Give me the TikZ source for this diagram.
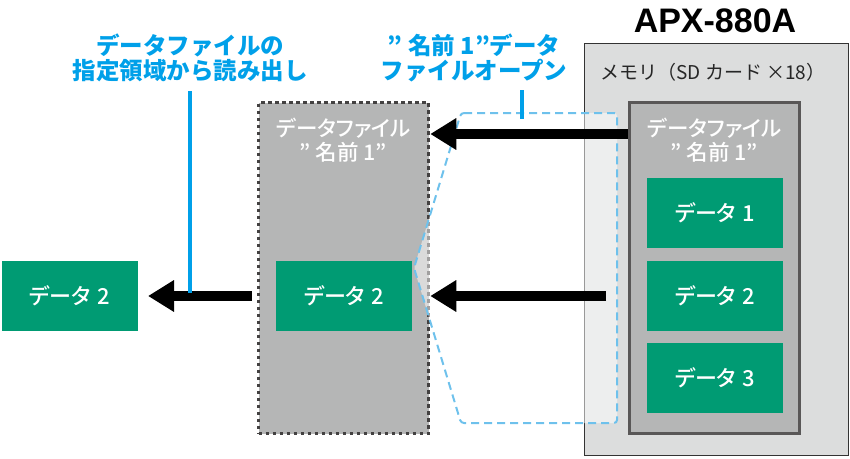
\documentclass[tikz,border=0pt]{standalone}
\usepackage{fontspec}
\setmainfont{Noto Sans CJK JP}
\newfontfamily\jpmedium{Noto Sans CJK JP}[UprightFont={* Medium}, RawFeature=+palt]
\newfontfamily\latinbold{Liberation Sans}
\usetikzlibrary{arrows.meta, positioning, calc}

\definecolor{memgray}{HTML}{DCDDDD}
\definecolor{filegray}{HTML}{B5B6B6}
\definecolor{darkrim}{HTML}{595757}
\definecolor{datagreen}{HTML}{009B73}
\definecolor{noteblue}{HTML}{00A0E9}
\definecolor{dashblue}{HTML}{6EC1EC}

\begin{document}
\begin{tikzpicture}[x=1pt, y=-1pt, line join=miter]
    % Styles
    \tikzset{
        databox/.style={fill=datagreen, minimum width=136pt, minimum height=70pt, inner sep=0pt, text=white, font=\jpmedium\fontsize{22}{26}\selectfont},
        filebox/.style={fill=filegray, minimum width=170pt, minimum height=331pt, inner sep=0pt},
        filelabel/.style={text=white, align=center, font=\jpmedium\fontsize{21.5}{24}\selectfont},
        bigarrow/.style={line width=10pt, -{Triangle[length=26pt, width=30pt]}},
        note/.style={text=noteblue, align=center, font=\fontsize{23.5}{25}\selectfont\bfseries},
        noteline/.style={noteblue, line width=3.5pt}
    }
    \useasboundingbox (0,0) rectangle (850,458);

    % --- APX-880A ---
    \node[draw=black!80, line width=1.5pt, fill=memgray, minimum width=264pt, minimum height=412pt, inner sep=0pt] (apx) at (716.5,249.5) {};
    \node[font=\latinbold\fontsize{34}{34}\selectfont\bfseries, anchor=base] (title) at (715,32) {APX-880A};
    \node[font=\fontsize{19}{22}\selectfont, text=black!85] (memlabel) at (713,72) {メモリ（SD カード ×18）};

    % --- Data file in memory ---
    \node[filebox, draw=darkrim, line width=3.5pt] (file) at (714.5,268) {};
    \node[filelabel] (filename) at (714.5,140) {データファイル\\” 名前 1”};
    \node[databox] (d1) at (715,213) {データ\hspace{0.3em}1};
    \node[databox] (d2) at (715,296) {データ\hspace{0.3em}2};
    \node[databox] (d3) at (715,378) {データ\hspace{0.3em}3};

    % --- Opened data file ---
    \node[filebox, draw=darkrim!75!black, line width=3.5pt, dash pattern=on 3.5pt off 3.5pt] (open) at (343.5,268) {};
    \node[filelabel] (openname) at (343.5,140) {データファイル\\” 名前 1”};
    \node[databox] (od2) at (344,296) {データ\hspace{0.3em}2};

    % --- Read out data ---
    \node[databox] (out2) at (69.5,296) {データ\hspace{0.3em}2};

    % --- Open highlight ---
    \draw[dashblue, line width=2pt, dash pattern=on 8pt off 5pt, fill=white, fill opacity=0.5, rounded corners=3pt]
        (461,113) -- (617,113) -- (617,423) -- (461,423) -- (414,268) -- cycle;

    % --- Arrows ---
    \coordinate (row1) at (0,134);
    \coordinate (src2) at (606,296);
    \coordinate (src3) at (252,296);
    \coordinate (tip3) at (148,296);
    \draw[bigarrow] (file.west |- row1) -- (open.east |- row1);
    \draw[bigarrow] (src2) -- (open.east |- src2);
    \draw[bigarrow] (src3) -- (tip3);

    % --- Notes ---
    \node[note] (note1) at (190,57.5) {データファイルの\\指定領域から読み出し};
    \node[note] (note2) at (474,57.5) {”\hspace{0.25em}名前 1”データ\\ファイルオープン};
    \coordinate (foot1) at (190,293);
    \coordinate (foot2) at (522,119);
    \draw[noteline] (190,91) -- (foot1);
    \draw[noteline] (522,90) -- (foot2);

\end{tikzpicture}
\end{document}
